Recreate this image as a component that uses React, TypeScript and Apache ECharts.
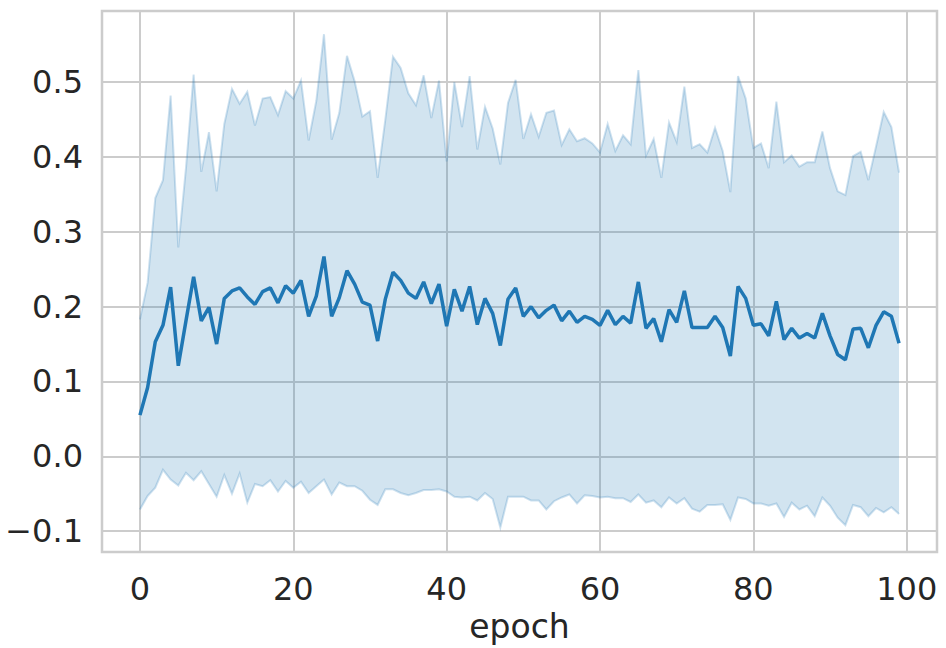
import React, { useEffect, useRef } from "react";
import * as echarts from "echarts";

const epochs: number[] = Array.from({ length: 100 }, (_, i) => i);

const meanValues: number[] = [
  0.055, 0.092, 0.153, 0.175, 0.226, 0.121, 0.181, 0.240, 0.181, 0.199,
  0.150, 0.211, 0.221, 0.225, 0.213, 0.203, 0.220, 0.225, 0.205, 0.228,
  0.218, 0.235, 0.187, 0.214, 0.267, 0.187, 0.212, 0.248, 0.230, 0.206,
  0.202, 0.154, 0.210, 0.246, 0.235, 0.218, 0.211, 0.233, 0.204, 0.230,
  0.174, 0.223, 0.194, 0.227, 0.176, 0.211, 0.191, 0.148, 0.210, 0.225,
  0.187, 0.200, 0.185, 0.195, 0.202, 0.181, 0.194, 0.179, 0.187, 0.183,
  0.175, 0.195, 0.176, 0.187, 0.178, 0.233, 0.171, 0.184, 0.153, 0.196,
  0.179, 0.221, 0.172, 0.172, 0.172, 0.187, 0.172, 0.134, 0.227, 0.211,
  0.175, 0.177, 0.161, 0.207, 0.156, 0.171, 0.158, 0.164, 0.158, 0.191,
  0.161, 0.136, 0.129, 0.170, 0.171, 0.145, 0.175, 0.193, 0.187, 0.151,
];

const upperValues: number[] = [
  0.183, 0.232, 0.345, 0.369, 0.482, 0.279, 0.385, 0.510, 0.380, 0.433,
  0.354, 0.444, 0.491, 0.471, 0.487, 0.442, 0.478, 0.480, 0.456, 0.488,
  0.478, 0.502, 0.422, 0.475, 0.564, 0.423, 0.459, 0.535, 0.501, 0.454,
  0.461, 0.372, 0.450, 0.534, 0.519, 0.485, 0.469, 0.509, 0.452, 0.502,
  0.394, 0.500, 0.440, 0.508, 0.410, 0.467, 0.438, 0.390, 0.472, 0.503,
  0.424, 0.457, 0.427, 0.459, 0.462, 0.416, 0.437, 0.421, 0.425, 0.418,
  0.406, 0.444, 0.408, 0.429, 0.417, 0.516, 0.402, 0.424, 0.372, 0.446,
  0.420, 0.494, 0.412, 0.417, 0.406, 0.439, 0.408, 0.353, 0.508, 0.478,
  0.412, 0.418, 0.385, 0.474, 0.393, 0.402, 0.387, 0.393, 0.393, 0.434,
  0.385, 0.354, 0.349, 0.401, 0.407, 0.369, 0.414, 0.460, 0.440, 0.379,
];

const lowerValues: number[] = [
  -0.071, -0.053, -0.042, -0.018, -0.031, -0.039, -0.022, -0.032, -0.020, -0.037,
  -0.054, -0.025, -0.050, -0.023, -0.062, -0.037, -0.040, -0.032, -0.047, -0.033,
  -0.042, -0.034, -0.049, -0.040, -0.031, -0.051, -0.035, -0.040, -0.040, -0.046,
  -0.058, -0.065, -0.044, -0.044, -0.049, -0.052, -0.049, -0.045, -0.045, -0.044,
  -0.047, -0.054, -0.055, -0.054, -0.059, -0.049, -0.057, -0.095, -0.054, -0.054,
  -0.054, -0.059, -0.059, -0.071, -0.060, -0.055, -0.051, -0.063, -0.052, -0.053,
  -0.055, -0.054, -0.056, -0.056, -0.061, -0.051, -0.062, -0.059, -0.068, -0.055,
  -0.063, -0.056, -0.070, -0.074, -0.065, -0.065, -0.064, -0.085, -0.055, -0.057,
  -0.063, -0.063, -0.066, -0.063, -0.081, -0.062, -0.071, -0.066, -0.080, -0.055,
  -0.066, -0.082, -0.092, -0.065, -0.068, -0.080, -0.069, -0.075, -0.068, -0.077,
];

const xLabel = "epoch";
const FONT = "DejaVu Sans";
const TEXT = "#262626";
const GRID = "#cccccc";
const BLUE = "#1f77b4";

export default function App() {
  const ref = useRef<HTMLDivElement>(null);

  useEffect(() => {
    if (!ref.current) return;
    const chart = echarts.init(ref.current, undefined, { renderer: "svg" });

    const bandData = epochs.map((e, i) => [e, lowerValues[i], upperValues[i]]);
    const meanData = epochs.map((e, i) => [e, meanValues[i]]);

    const fmtY = (v: number) =>
      (v < -1e-9 ? "\u2212" : "") + Math.abs(v).toFixed(1);

    const renderBand = (params: any, api: any) => {
      if (params.dataIndex !== 0) return null;
      const top: number[][] = epochs.map((e, i) => api.coord([e, upperValues[i]]));
      const bot: number[][] = epochs.map((e, i) => api.coord([e, lowerValues[i]]));
      const poly = top.concat(bot.slice().reverse());
      return {
        type: "group",
        children: [
          {
            type: "polygon",
            shape: { points: poly },
            style: { fill: "rgba(31,119,180,0.2)", stroke: "none" },
          },
          {
            type: "polyline",
            shape: { points: top },
            style: { fill: "none", stroke: "rgba(31,119,180,0.22)", lineWidth: 2 },
          },
          {
            type: "polyline",
            shape: { points: bot },
            style: { fill: "none", stroke: "rgba(31,119,180,0.22)", lineWidth: 2 },
          },
        ],
      };
    };

    chart.setOption({
      animation: false,
      backgroundColor: "#ffffff",
      textStyle: { fontFamily: FONT, color: TEXT },
      grid: {
        left: 102,
        width: 835,
        top: 11,
        height: 542,
        show: true,
        borderColor: GRID,
        borderWidth: 2.5,
        backgroundColor: "transparent",
      },
      xAxis: {
        type: "value",
        min: -4.95,
        max: 103.95,
        name: xLabel,
        nameLocation: "middle",
        nameGap: 49,
        nameTextStyle: { fontFamily: FONT, fontSize: 33, color: TEXT },
        axisLine: { show: false },
        axisTick: { show: false },
        axisLabel: {
          showMinLabel: false,
          showMaxLabel: false,
          fontFamily: FONT,
          fontSize: 32,
          color: TEXT,
          margin: 21,
        },
        splitLine: { show: true, lineStyle: { color: GRID, width: 2 } },
      },
      yAxis: {
        type: "value",
        min: -0.128,
        max: 0.595,
        axisLine: { show: false },
        axisTick: { show: false },
        axisLabel: {
          showMinLabel: false,
          showMaxLabel: false,
          fontFamily: FONT,
          fontSize: 32,
          color: TEXT,
          margin: 19,
          formatter: fmtY,
        },
        splitLine: { show: true, lineStyle: { color: GRID, width: 2 } },
      },
      series: [
        {
          type: "custom",
          name: "band",
          data: bandData,
          encode: { x: 0, y: [1, 2] },
          renderItem: renderBand,
          silent: true,
          z: 1,
        },
        {
          type: "line",
          name: "mean",
          data: meanData,
          symbol: "none",
          lineStyle: { color: BLUE, width: 3.5 },
          z: 3,
        },
      ],
    });

    return () => {
      chart.dispose();
    };
  }, []);

  return (
    <div
      ref={ref}
      style={{ position: "fixed", left: 0, top: 0, width: 946, height: 648 }}
    />
  );
}
